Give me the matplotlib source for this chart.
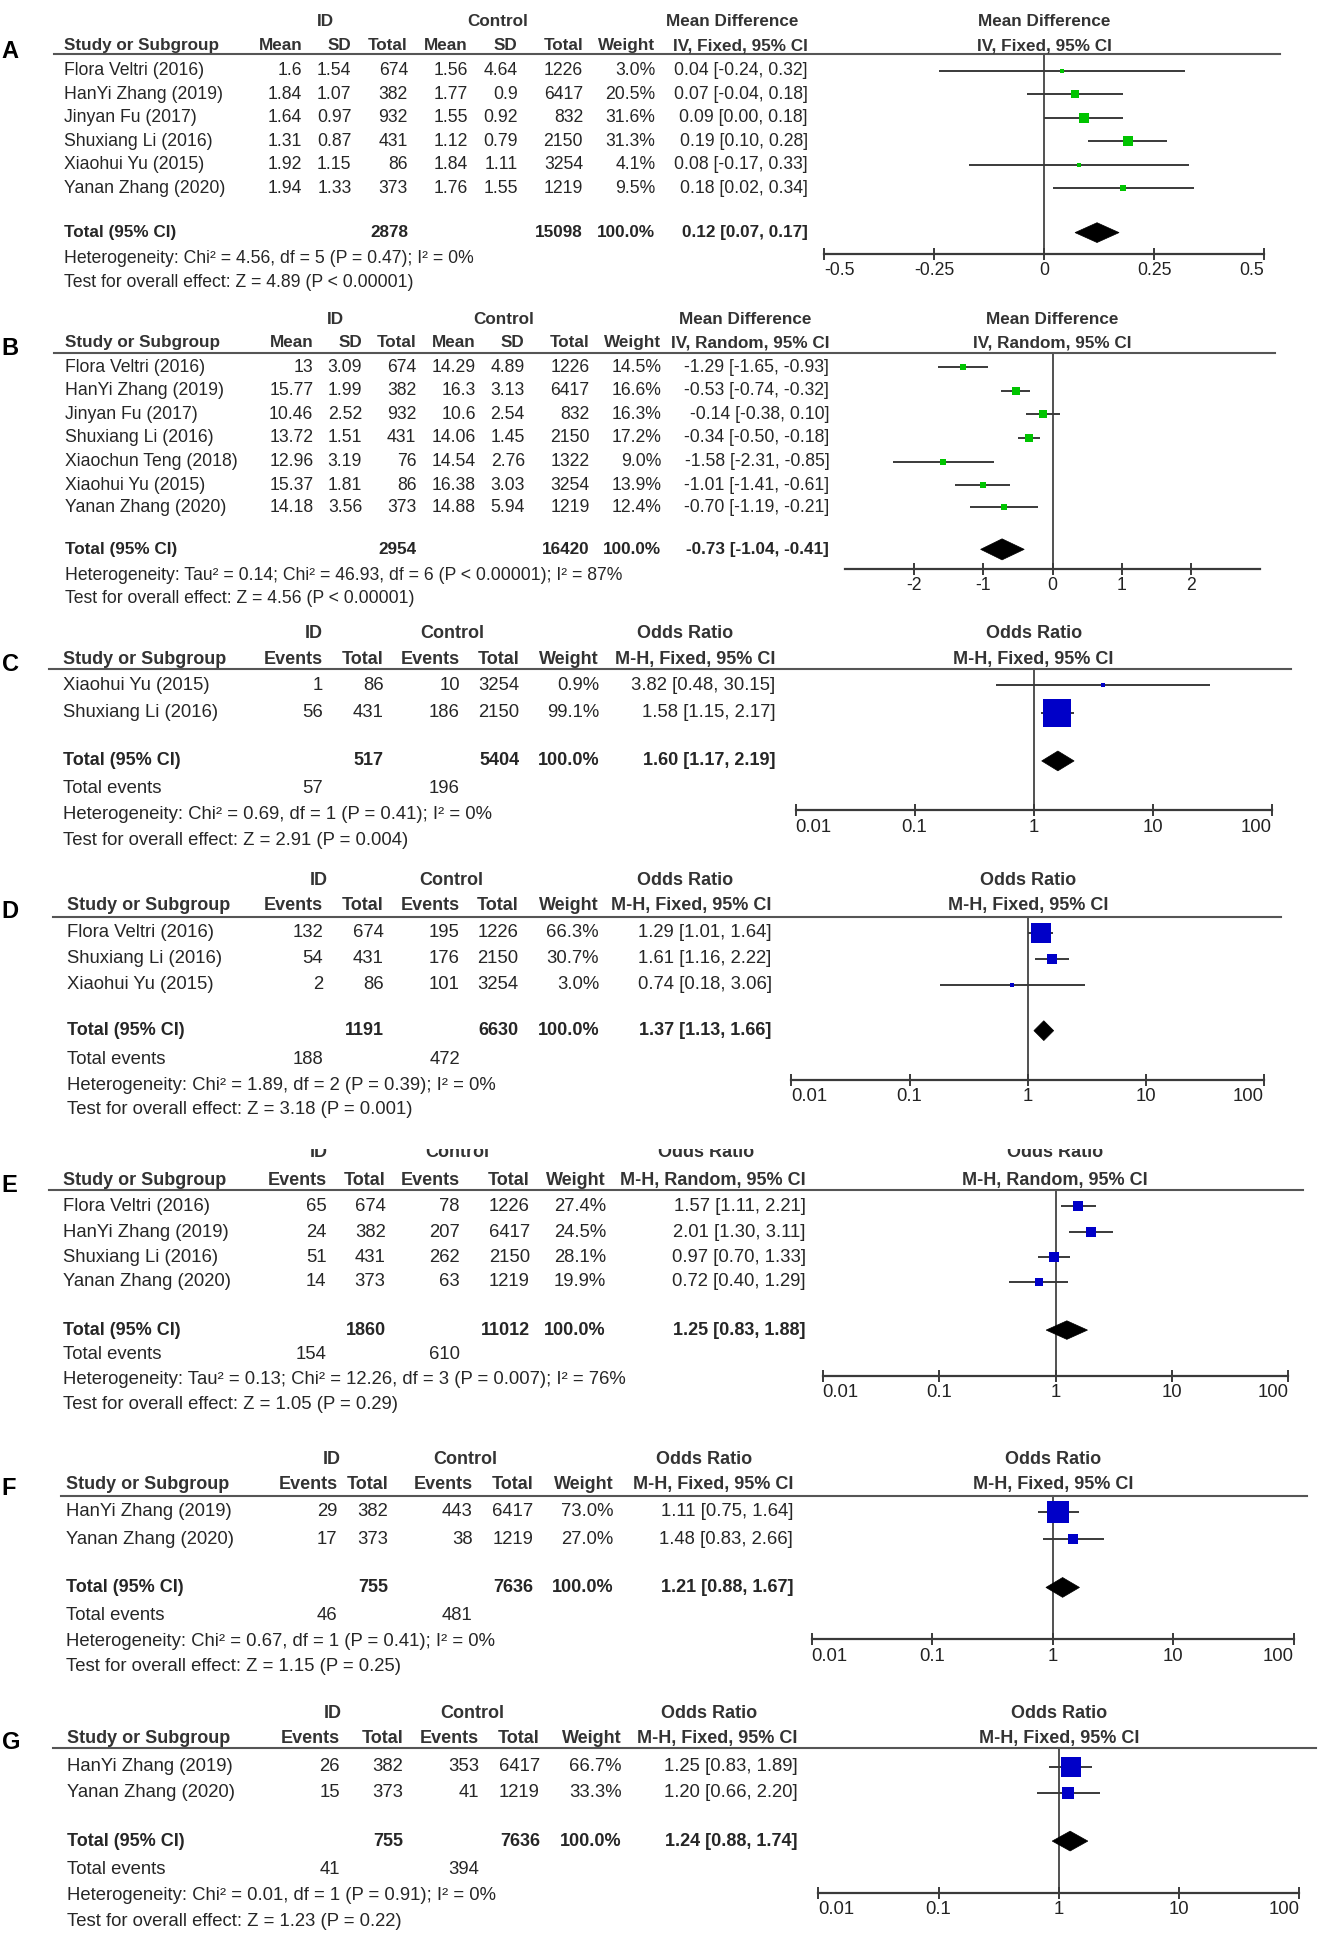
import matplotlib
matplotlib.use('Agg')
import matplotlib.pyplot as plt
from matplotlib import font_manager
from matplotlib.patches import Polygon, Rectangle
from matplotlib.lines import Line2D
from matplotlib.ticker import NullLocator, FixedLocator


def pick(fams):
    for f in fams:
        try:
            font_manager.findfont(font_manager.FontProperties(family=f), fallback_to_default=False)
            return f
        except Exception:
            pass
    return 'DejaVu Sans'


FONT = pick(['Liberation Sans Narrow', 'Arial Narrow', 'Liberation Sans'])
WIDE = pick(['Liberation Sans', 'Arial', 'DejaVu Sans'])

# ---------------- DATA ----------------
# Panel A (mean difference, fixed)
A_study = ['Flora Veltri (2016)', 'HanYi Zhang (2019)', 'Jinyan Fu (2017)', 'Shuxiang Li (2016)',
           'Xiaohui Yu (2015)', 'Yanan Zhang (2020)']
A_id_mean = [1.6, 1.84, 1.64, 1.31, 1.92, 1.94]
A_id_sd = [1.54, 1.07, 0.97, 0.87, 1.15, 1.33]
A_id_n = [674, 382, 932, 431, 86, 373]
A_ctl_mean = [1.56, 1.77, 1.55, 1.12, 1.84, 1.76]
A_ctl_sd = [4.64, 0.9, 0.92, 0.79, 1.11, 1.55]
A_ctl_n = [1226, 6417, 832, 2150, 3254, 1219]
A_weight = [3.0, 20.5, 31.6, 31.3, 4.1, 9.5]
A_est = [0.04, 0.07, 0.09, 0.19, 0.08, 0.18]
A_lo = [-0.24, -0.04, 0.00, 0.10, -0.17, 0.02]
A_hi = [0.32, 0.18, 0.18, 0.28, 0.33, 0.34]
A_tot_n = [2878, 15098]
A_pooled = [0.12, 0.07, 0.17]
A_het = 'Heterogeneity: Chi² = 4.56, df = 5 (P = 0.47); I² = 0%'
A_test = 'Test for overall effect: Z = 4.89 (P < 0.00001)'
A_ticks = [-0.5, -0.25, 0, 0.25, 0.5]
A_ticklabels = ['-0.5', '-0.25', '0', '0.25', '0.5']

# Panel B (mean difference, random)
B_study = ['Flora Veltri (2016)', 'HanYi Zhang (2019)', 'Jinyan Fu (2017)', 'Shuxiang Li (2016)',
           'Xiaochun Teng (2018)', 'Xiaohui Yu (2015)', 'Yanan Zhang (2020)']
B_id_mean = [13, 15.77, 10.46, 13.72, 12.96, 15.37, 14.18]
B_id_sd = [3.09, 1.99, 2.52, 1.51, 3.19, 1.81, 3.56]
B_id_n = [674, 382, 932, 431, 76, 86, 373]
B_ctl_mean = [14.29, 16.3, 10.6, 14.06, 14.54, 16.38, 14.88]
B_ctl_sd = [4.89, 3.13, 2.54, 1.45, 2.76, 3.03, 5.94]
B_ctl_n = [1226, 6417, 832, 2150, 1322, 3254, 1219]
B_weight = [14.5, 16.6, 16.3, 17.2, 9.0, 13.9, 12.4]
B_est = [-1.29, -0.53, -0.14, -0.34, -1.58, -1.01, -0.70]
B_lo = [-1.65, -0.74, -0.38, -0.50, -2.31, -1.41, -1.19]
B_hi = [-0.93, -0.32, 0.10, -0.18, -0.85, -0.61, -0.21]
B_tot_n = [2954, 16420]
B_pooled = [-0.73, -1.04, -0.41]
B_het = 'Heterogeneity: Tau² = 0.14; Chi² = 46.93, df = 6 (P < 0.00001); I² = 87%'
B_test = 'Test for overall effect: Z = 4.56 (P < 0.00001)'
B_ticks = [-2, -1, 0, 1, 2]
B_ticklabels = ['-2', '-1', '0', '1', '2']

OR_ticks = [0.01, 0.1, 1, 10, 100]
OR_ticklabels = ['0.01', '0.1', '1', '10', '100']

# Panel C
C_study = ['Xiaohui Yu (2015)', 'Shuxiang Li (2016)']
C_id_ev = [1, 56]
C_id_n = [86, 431]
C_ctl_ev = [10, 186]
C_ctl_n = [3254, 2150]
C_weight = [0.9, 99.1]
C_est = [3.82, 1.58]
C_lo = [0.48, 1.15]
C_hi = [30.15, 2.17]
C_tot_n = [517, 5404]
C_tot_ev = [57, 196]
C_pooled = [1.60, 1.17, 2.19]
C_het = 'Heterogeneity: Chi² = 0.69, df = 1 (P = 0.41); I² = 0%'
C_test = 'Test for overall effect: Z = 2.91 (P = 0.004)'

# Panel D
D_study = ['Flora Veltri (2016)', 'Shuxiang Li (2016)', 'Xiaohui Yu (2015)']
D_id_ev = [132, 54, 2]
D_id_n = [674, 431, 86]
D_ctl_ev = [195, 176, 101]
D_ctl_n = [1226, 2150, 3254]
D_weight = [66.3, 30.7, 3.0]
D_est = [1.29, 1.61, 0.74]
D_lo = [1.01, 1.16, 0.18]
D_hi = [1.64, 2.22, 3.06]
D_tot_n = [1191, 6630]
D_tot_ev = [188, 472]
D_pooled = [1.37, 1.13, 1.66]
D_het = 'Heterogeneity: Chi² = 1.89, df = 2 (P = 0.39); I² = 0%'
D_test = 'Test for overall effect: Z = 3.18 (P = 0.001)'

# Panel E
E_study = ['Flora Veltri (2016)', 'HanYi Zhang (2019)', 'Shuxiang Li (2016)', 'Yanan Zhang (2020)']
E_id_ev = [65, 24, 51, 14]
E_id_n = [674, 382, 431, 373]
E_ctl_ev = [78, 207, 262, 63]
E_ctl_n = [1226, 6417, 2150, 1219]
E_weight = [27.4, 24.5, 28.1, 19.9]
E_est = [1.57, 2.01, 0.97, 0.72]
E_lo = [1.11, 1.30, 0.70, 0.40]
E_hi = [2.21, 3.11, 1.33, 1.29]
E_tot_n = [1860, 11012]
E_tot_ev = [154, 610]
E_pooled = [1.25, 0.83, 1.88]
E_het = 'Heterogeneity: Tau² = 0.13; Chi² = 12.26, df = 3 (P = 0.007); I² = 76%'
E_test = 'Test for overall effect: Z = 1.05 (P = 0.29)'

# Panel F
F_study = ['HanYi Zhang (2019)', 'Yanan Zhang (2020)']
F_id_ev = [29, 17]
F_id_n = [382, 373]
F_ctl_ev = [443, 38]
F_ctl_n = [6417, 1219]
F_weight = [73.0, 27.0]
F_est = [1.11, 1.48]
F_lo = [0.75, 0.83]
F_hi = [1.64, 2.66]
F_tot_n = [755, 7636]
F_tot_ev = [46, 481]
F_pooled = [1.21, 0.88, 1.67]
F_het = 'Heterogeneity: Chi² = 0.67, df = 1 (P = 0.41); I² = 0%'
F_test = 'Test for overall effect: Z = 1.15 (P = 0.25)'

# Panel G
G_study = ['HanYi Zhang (2019)', 'Yanan Zhang (2020)']
G_id_ev = [26, 15]
G_id_n = [382, 373]
G_ctl_ev = [353, 41]
G_ctl_n = [6417, 1219]
G_weight = [66.7, 33.3]
G_est = [1.25, 1.20]
G_lo = [0.83, 0.66]
G_hi = [1.89, 2.20]
G_tot_n = [755, 7636]
G_tot_ev = [41, 394]
G_pooled = [1.24, 0.88, 1.74]
G_het = 'Heterogeneity: Chi² = 0.01, df = 1 (P = 0.91); I² = 0%'
G_test = 'Test for overall effect: Z = 1.23 (P = 0.22)'

# ---------------- LAYOUT ----------------
W, H = 1080.0, 1582.0          # layout frame units
YS = 1.010                     # vertical correction of row positions
TXT = '#262626'
HDR = '#333333'
GREEN = '#00c400'
BLUE = '#0000c8'
GRAY = '#3a3a3a'

fig = plt.figure(figsize=(13.23, 19.38), dpi=100)
fig.patch.set_facecolor('white')


def fx(x):
    return x / W


def fy(y):
    return 1 - y * YS / H


def txt(x, y, s, size, ha='left', bold=False, family=None, color=TXT, z=3):
    fig.text(fx(x), fy(y), s, ha=ha, va='center', fontsize=size,
             fontweight='bold' if bold else 'normal',
             family=family or FONT, color=color, zorder=z)


def fmt_ci(v):
    return f'{v[0]:.2f} [{v[1]:.2f}, {v[2]:.2f}]'


def draw_panel(L, cols, col_hdrs, group_titles, forest_titles, rows, total_cells, ev_cells,
               het, test, est, lo, hi, weight, pooled, ticks, ticklabels):
    fs, fb = L['fs'], L['fb']
    txt(1.5, L['letter_y'], L['letter'], 17, bold=True, family=WIDE, color='black')
    for cx, t in zip(L['grp'], group_titles):
        txt(cx, L['h1'], t, fb, ha='center', bold=True, color=HDR)
    txt(L['sx'], L['h2'], 'Study or Subgroup', fb, bold=True, color=HDR)
    for cx, t in zip(cols, col_hdrs):
        txt(cx, L['h2'], t, fb, ha='right', bold=True, color=HDR)
    txt(L['fc'], L['h1'], forest_titles[0], fb, ha='center', bold=True, color=HDR)
    txt(L['fc'], L['h2'], forest_titles[1], fb, ha='center', bold=True, color=HDR)
    fig.add_artist(Line2D([fx(L['lx0']), fx(L['lx1'])], [fy(L['line'])] * 2,
                          transform=fig.transFigure, color='#555555', lw=1.5))
    for y, cells in zip(L['rows'], rows):
        txt(L['sx'], y, cells[0], fs)
        for cx, c in zip(cols, cells[1:]):
            txt(cx, y, c, fs, ha='right')
    txt(L['sx'], L['total'], 'Total (95% CI)', fb, bold=True)
    for idx, c in total_cells:
        txt(cols[idx], L['total'], c, fb, ha='right', bold=True)
    if ev_cells is not None:
        txt(L['sx'], L['events'], 'Total events', fs)
        for idx, c in ev_cells:
            txt(cols[idx], L['events'], c, fs, ha='right')
    txt(L['sx'], L['het'], het, fs)
    txt(L['sx'], L['test'], test, fs)

    # forest plot axes
    ax = fig.add_axes([fx(L['x0']), fy(L['axis']), fx(L['x1']) - fx(L['x0']),
                       fy(L['line']) - fy(L['axis'])])
    ax.set_facecolor('none')
    if L['log']:
        ax.set_xscale('log')
    ax.set_xlim(L['xlim'])
    ax.set_ylim(L['axis'], L['line'])
    for s in ['top', 'left', 'right']:
        ax.spines[s].set_visible(False)
    ax.spines['bottom'].set_color(GRAY)
    ax.spines['bottom'].set_linewidth(1.6)
    ax.set_yticks([])
    ax.xaxis.set_major_locator(FixedLocator(ticks))
    ax.xaxis.set_minor_locator(NullLocator())
    ax.tick_params(axis='x', direction='inout', length=9, width=1.4, colors=GRAY,
                   labelbottom=False)
    n = len(ticks)
    for i, (t, lab) in enumerate(zip(ticks, ticklabels)):
        ha = 'center'
        if L['endalign'] and i == 0:
            ha = 'left'
        elif L['endalign'] and i == n - 1:
            ha = 'right'
        ax.text(t, L['axis'] + 13.5, lab, ha=ha, va='center', fontsize=fs, family=FONT,
                color='#222222', clip_on=False)
    ax.axvline(L['null'], color='#333333', lw=1.2, zorder=1)
    for y, e, l, h, w in zip(L['rows'], est, lo, hi, weight):
        ax.plot([l, h], [y, y], color=GRAY, lw=1.4, zorder=2, solid_capstyle='butt')
        side_px = 3.0 + 0.25 * w
        ax.plot([e], [y], marker='s', markersize=side_px * 0.72, color=L['color'],
                markeredgewidth=0, linestyle='none', zorder=3)
    m, l, h = pooled
    hh = L['dh']
    yd = L['total']
    ax.add_patch(Polygon([(l, yd), (m, yd - hh), (h, yd), (m, yd + hh)], closed=True,
                         facecolor='black', edgecolor='black', lw=0.5, zorder=4, clip_on=False))
    return ax


def g(v):
    return f'{v:g}'


def md_rows(study, a1, a2, a3, b1, b2, b3, w, est, lo, hi):
    return [[s, g(p), g(q), str(r), g(u), g(v), str(z), f'{ww:.1f}%', fmt_ci((m, l, h))]
            for s, p, q, r, u, v, z, ww, m, l, h in zip(study, a1, a2, a3, b1, b2, b3, w, est, lo, hi)]


def or_rows(study, iev, inn, cev, cn, w, est, lo, hi):
    return [[s, str(a), str(b), str(c), str(d), f'{ww:.1f}%', fmt_ci((m, l, h))]
            for s, a, b, c, d, ww, m, l, h in zip(study, iev, inn, cev, cn, w, est, lo, hi)]


MD_HDR = ['Mean', 'SD', 'Total', 'Mean', 'SD', 'Total', 'Weight']
OR_HDR = ['Events', 'Total', 'Events', 'Total', 'Weight']

# ---- Panel A ----
LA = dict(letter='A', letter_y=42, h1=17, h2=37, line=44, rows=[57, 76, 95, 114, 133, 152],
          total=188, het=209, test=228, axis=205.5, x0=672.9, x1=1032, xlim=(-0.5, 0.5), log=False,
          endalign=True, null=0, grp=[266, 406, 598], fc=852.5, lx0=44, lx1=1045, sx=52,
          color=GREEN, dh=8, fs=12.7, fb=12.3)
colsA = [246.7, 286.9, 333, 382, 422.6, 476, 535, 659.5]
draw_panel(LA, colsA, MD_HDR + ['IV, Fixed, 95% CI'], ['ID', 'Control', 'Mean Difference'],
           ['Mean Difference', 'IV, Fixed, 95% CI'],
           md_rows(A_study, A_id_mean, A_id_sd, A_id_n, A_ctl_mean, A_ctl_sd, A_ctl_n,
                   A_weight, A_est, A_lo, A_hi),
           [(2, str(A_tot_n[0])), (5, str(A_tot_n[1])), (6, '100.0%'), (7, fmt_ci(A_pooled))], None,
           A_het, A_test, A_est, A_lo, A_hi, A_weight, A_pooled, A_ticks, A_ticklabels)

# ---- Panel B ----
LB = dict(letter='B', letter_y=282, h1=258, h2=277, line=285, rows=[297, 316, 335, 354, 373, 392, 410],
          total=444, het=465, test=484, axis=460, x0=689.8, x1=1028.7, xlim=(-3, 3), log=False,
          endalign=False, null=0, grp=[273.5, 411.5, 608], fc=859, lx0=44, lx1=1041, sx=53,
          color=GREEN, dh=8.5, fs=12.7, fb=12.3)
colsB = [255.8, 295.6, 339.8, 388.5, 428.4, 481.4, 539.9, 677]
draw_panel(LB, colsB, MD_HDR + ['IV, Random, 95% CI'], ['ID', 'Control', 'Mean Difference'],
           ['Mean Difference', 'IV, Random, 95% CI'],
           md_rows(B_study, B_id_mean, B_id_sd, B_id_n, B_ctl_mean, B_ctl_sd, B_ctl_n,
                   B_weight, B_est, B_lo, B_hi),
           [(2, str(B_tot_n[0])), (5, str(B_tot_n[1])), (6, '100.0%'), (7, fmt_ci(B_pooled))], None,
           B_het, B_test, B_est, B_lo, B_hi, B_weight, B_pooled, B_ticks, B_ticklabels)

# ---- Panel C ----
LC = dict(letter='C', letter_y=537, h1=512, h2=533, line=541, rows=[554, 576], total=615, events=637,
          het=658, test=679, axis=655, x0=649.5, x1=1038, xlim=(0.01, 100), log=True, endalign=True,
          null=1, grp=[256, 369, 559], fc=843.8, lx0=40, lx1=1054, sx=51.7,
          color=BLUE, dh=8, fs=13.3, fb=13.0)
colsC = [263.8, 313.4, 375.4, 424, 489, 633]
draw_panel(LC, colsC, OR_HDR + ['M-H, Fixed, 95% CI'], ['ID', 'Control', 'Odds Ratio'],
           ['Odds Ratio', 'M-H, Fixed, 95% CI'],
           or_rows(C_study, C_id_ev, C_id_n, C_ctl_ev, C_ctl_n, C_weight, C_est, C_lo, C_hi),
           [(1, str(C_tot_n[0])), (3, str(C_tot_n[1])), (4, '100.0%'), (5, fmt_ci(C_pooled))],
           [(0, str(C_tot_ev[0])), (2, str(C_tot_ev[1]))],
           C_het, C_test, C_est, C_lo, C_hi, C_weight, C_pooled, OR_ticks, OR_ticklabels)

# ---- Panel D ----
LD = dict(letter='D', letter_y=737, h1=712, h2=732, line=741, rows=[754, 775, 796], total=833, events=856,
          het=877, test=897, axis=873, x0=646, x1=1031.8, xlim=(0.01, 100), log=True, endalign=True,
          null=1, grp=[260, 368, 559], fc=839, lx0=43, lx1=1046, sx=55,
          color=BLUE, dh=8, fs=13.3, fb=13.0)
colsD = [263.8, 313.4, 375.4, 423, 489, 630]
draw_panel(LD, colsD, OR_HDR + ['M-H, Fixed, 95% CI'], ['ID', 'Control', 'Odds Ratio'],
           ['Odds Ratio', 'M-H, Fixed, 95% CI'],
           or_rows(D_study, D_id_ev, D_id_n, D_ctl_ev, D_ctl_n, D_weight, D_est, D_lo, D_hi),
           [(1, str(D_tot_n[0])), (3, str(D_tot_n[1])), (4, '100.0%'), (5, fmt_ci(D_pooled))],
           [(0, str(D_tot_ev[0])), (2, str(D_tot_ev[1]))],
           D_het, D_test, D_est, D_lo, D_hi, D_weight, D_pooled, OR_ticks, OR_ticklabels)

# ---- Panel E ----
LE = dict(letter='E', letter_y=958, h1=931.5, h2=954, line=962, rows=[975, 996, 1016, 1036], total=1075,
          events=1095, het=1115, test=1135, axis=1112, x0=671.6, x1=1051.8, xlim=(0.01, 100), log=True,
          endalign=True, null=1, grp=[260, 373, 576.5], fc=861, lx0=40, lx1=1064, sx=51.7,
          color=BLUE, dh=7.5, fs=13.3, fb=13.0)
colsE = [266.6, 314.8, 375.4, 432.6, 494.6, 657.8]
draw_panel(LE, colsE, OR_HDR + ['M-H, Random, 95% CI'], ['ID', 'Control', 'Odds Ratio'],
           ['Odds Ratio', 'M-H, Random, 95% CI'],
           or_rows(E_study, E_id_ev, E_id_n, E_ctl_ev, E_ctl_n, E_weight, E_est, E_lo, E_hi),
           [(1, str(E_tot_n[0])), (3, str(E_tot_n[1])), (4, '100.0%'), (5, fmt_ci(E_pooled))],
           [(0, str(E_tot_ev[0])), (2, str(E_tot_ev[1]))],
           E_het, E_test, E_est, E_lo, E_hi, E_weight, E_pooled, OR_ticks, OR_ticklabels)
# the top of panel E's first header row is cut off in the original figure
fig.add_artist(Rectangle((fx(150), fy(929)), fx(1000) - fx(150), fy(906) - fy(929),
                         transform=fig.transFigure, facecolor='white', edgecolor='none', zorder=20))

# ---- Panel F ----
LF = dict(letter='F', letter_y=1203, h1=1180, h2=1200, line=1209, rows=[1222, 1244], total=1283,
          events=1306, het=1327, test=1347, axis=1325, x0=662.6, x1=1056, xlim=(0.01, 100), log=True,
          endalign=True, null=1, grp=[270.7, 380, 574.5], fc=859.6, lx0=50, lx1=1067, sx=53.7,
          color=BLUE, dh=8, fs=13.3, fb=13.0)
colsF = [275.5, 316.8, 385.7, 435.3, 500.8, 647.5]
draw_panel(LF, colsF, OR_HDR + ['M-H, Fixed, 95% CI'], ['ID', 'Control', 'Odds Ratio'],
           ['Odds Ratio', 'M-H, Fixed, 95% CI'],
           or_rows(F_study, F_id_ev, F_id_n, F_ctl_ev, F_ctl_n, F_weight, F_est, F_lo, F_hi),
           [(1, str(F_tot_n[0])), (3, str(F_tot_n[1])), (4, '100.0%'), (5, fmt_ci(F_pooled))],
           [(0, str(F_tot_ev[0])), (2, str(F_tot_ev[1]))],
           F_het, F_test, F_est, F_lo, F_hi, F_weight, F_pooled, OR_ticks, OR_ticklabels)

# ---- Panel G ----
LG = dict(letter='G', letter_y=1408, h1=1385, h2=1405, line=1413, rows=[1428, 1449], total=1488,
          events=1511, het=1532, test=1553, axis=1530, x0=668, x1=1060.8, xlim=(0.01, 100), log=True,
          endalign=True, null=1, grp=[272, 385.7, 578.6], fc=864.4, lx0=43, lx1=1074, sx=55,
          color=BLUE, dh=8, fs=13.3, fb=13.0)
colsG = [277.6, 329, 391, 440.8, 507.6, 651]
draw_panel(LG, colsG, OR_HDR + ['M-H, Fixed, 95% CI'], ['ID', 'Control', 'Odds Ratio'],
           ['Odds Ratio', 'M-H, Fixed, 95% CI'],
           or_rows(G_study, G_id_ev, G_id_n, G_ctl_ev, G_ctl_n, G_weight, G_est, G_lo, G_hi),
           [(1, str(G_tot_n[0])), (3, str(G_tot_n[1])), (4, '100.0%'), (5, fmt_ci(G_pooled))],
           [(0, str(G_tot_ev[0])), (2, str(G_tot_ev[1]))],
           G_het, G_test, G_est, G_lo, G_hi, G_weight, G_pooled, OR_ticks, OR_ticklabels)

fig.savefig('out.png', dpi=100, facecolor='white')
